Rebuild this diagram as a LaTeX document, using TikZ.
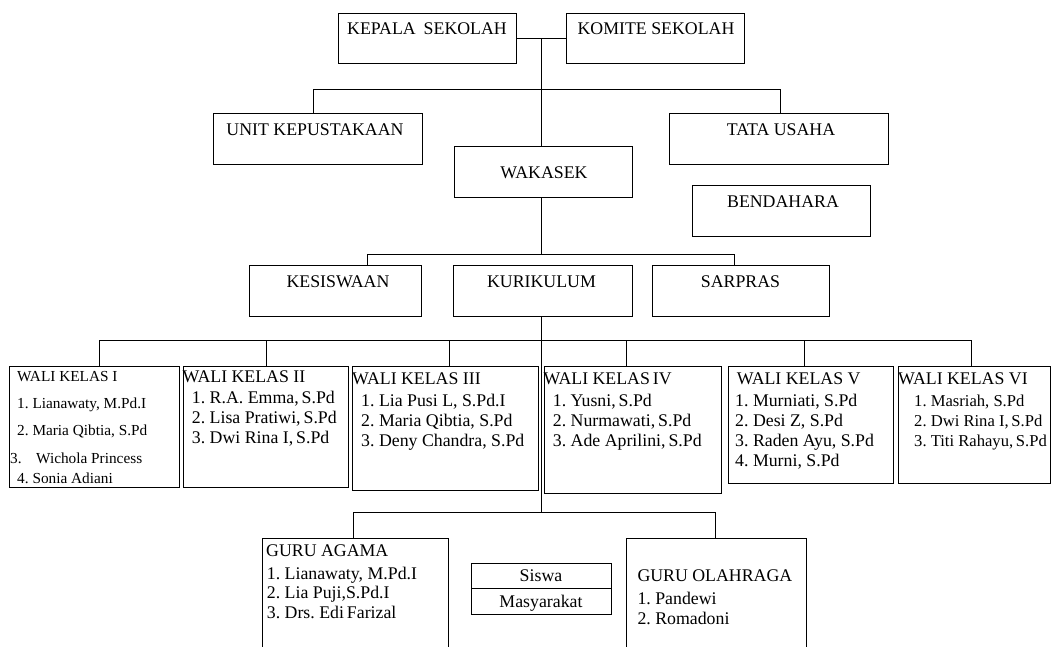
\documentclass[tikz,border=0pt]{standalone}
\usepackage{fontspec}
\setmainfont{Liberation Serif}
\begin{document}
\begin{tikzpicture}[x=1pt,y=-1pt,
  box/.style={draw=black, line width=1pt, inner sep=0pt, rectangle},
  conn/.style={draw=black, line width=1pt},
  tl/.style={inner sep=0pt, anchor=base, font=\fontsize{17.8}{20}\selectfont},
  tw/.style={inner sep=0pt, anchor=base west, font=\fontsize{17.8}{20}\selectfont},
  tws/.style={inner sep=0pt, anchor=base west, font=\fontsize{15.3}{18}\selectfont},
  twm/.style={inner sep=0pt, anchor=base west, font=\fontsize{16.6}{18}\selectfont}]
\useasboundingbox (0,0) rectangle (1052,646);
\fill[white] (0,0) rectangle (1052,646);
\clip (0,0) rectangle (1052,646);

% ---------- boxes ----------
\node[box, minimum width=178pt, minimum height=50pt] (kepala) at (427,38) {};
\node[box, minimum width=178pt, minimum height=50pt] (komite) at (655,38) {};
\node[box, minimum width=209pt, minimum height=51pt] (unit) at (317.5,138.5) {};
\node[box, minimum width=219pt, minimum height=51pt] (tata) at (778.5,138.5) {};
\node[box, minimum width=178pt, minimum height=51pt] (wakasek) at (543,171.5) {};
\node[box, minimum width=178pt, minimum height=51pt] (bendahara) at (781,210.5) {};
\node[box, minimum width=172pt, minimum height=51pt] (kesiswaan) at (335,290.5) {};
\node[box, minimum width=179pt, minimum height=51pt] (kurikulum) at (542.5,290.5) {};
\node[box, minimum width=177pt, minimum height=51pt] (sarpras) at (740.5,290.5) {};
\node[box, minimum width=170pt, minimum height=121pt] (wk1) at (94,426.5) {};
\node[box, minimum width=165pt, minimum height=121pt] (wk2) at (265.5,426.5) {};
\node[box, minimum width=186pt, minimum height=124pt] (wk3) at (445,428) {};
\node[box, minimum width=177pt, minimum height=127pt] (wk4) at (632.5,429.5) {};
\node[box, minimum width=165pt, minimum height=117pt] (wk5) at (810.5,424.5) {};
\node[box, minimum width=152pt, minimum height=117pt] (wk6) at (974,424.5) {};
\node[box, minimum width=186pt, minimum height=122pt] (agama) at (355,599) {};
\node[box, minimum width=140pt, minimum height=25pt] (siswa) at (541,575.5) {};
\node[box, minimum width=140pt, minimum height=26pt] (masy) at (541,601) {};
\node[box, minimum width=180pt, minimum height=122pt] (olahraga) at (716,599) {};

% ---------- titles ----------
\node[tl] (kepalaT) at (427,34.3) {KEPALA\hspace{8pt}SEKOLAH};
\node[tl] (komiteT) at (656,34.3) {KOMITE SEKOLAH};
\node[tl] (unitT) at (315,135) {UNIT KEPUSTAKAAN};
\node[tl] (tataT) at (781,135) {TATA USAHA};
\node[tl] (wakasekT) at (544,178.3) {WAKASEK};
\node[tl] (bendaharaT) at (783,207.3) {BENDAHARA};
\node[tl] (kesiswaanT) at (338,287.3) {KESISWAAN};
\node[tl] (kurikulumT) at (541.5,287.3) {KURIKULUM};
\node[tl] (sarprasT) at (740.5,287.3) {SARPRAS};

% ---------- wali kelas I ----------
\node[tws] (w1h) at (17,381) {WALI KELAS I};
\node[tws] (w1a) at (17,408.3) {1.\ Lianawaty, M.Pd.I};
\node[tws] (w1b) at (17,435) {2.\ Maria Qibtia, S.Pd};
\node[tws] (w1c) at (10,463.3) {3.};
\node[tws] (w1c2) at (36,463.3) {Wichola Princess};
\node[tws] (w1d) at (17,483) {4.\ Sonia Adiani};

% ---------- wali kelas II ----------
\node[tw] (w2h) at (182.5,382.7) {WALI KELAS II};
\node[tw] (w2a) at (191.7,403.3) {1.\ R.A.\ Emma,\,S.Pd};
\node[tw] (w2b) at (191.7,423.3) {2.\ Lisa Pratiwi,\,S.Pd};
\node[tw] (w2c) at (191.7,443.3) {3.\ Dwi Rina I,\,S.Pd};

% ---------- wali kelas III ----------
\node[tw] (w3h) at (352,384) {WALI KELAS III};
\node[tw] (w3a) at (361,406) {1.\ Lia Pusi L, S.Pd.I};
\node[tw] (w3b) at (361,426) {2.\ Maria Qibtia, S.Pd};
\node[tw] (w3c) at (361,446) {3.\ Deny Chandra, S.Pd};

% ---------- wali kelas IV ----------
\node[tw] (w4h) at (543.5,384) {WALI KELAS\,IV};
\node[tw] (w4a) at (552.7,406) {1.\ Yusni,\,S.Pd};
\node[tw] (w4b) at (552.7,426) {2.\ Nurmawati,\,S.Pd};
\node[tw] (w4c) at (552.7,446) {3.\ Ade Aprilini,\,S.Pd};

% ---------- wali kelas V ----------
\node[tw] (w5h) at (736.7,384) {WALI KELAS V};
\node[tw] (w5a) at (735,406) {1.\ Murniati, S.Pd};
\node[tw] (w5b) at (735,426) {2.\ Desi Z, S.Pd};
\node[tw] (w5c) at (735,446) {3.\ Raden Ayu, S.Pd};
\node[tw] (w5d) at (735,466) {4.\ Murni, S.Pd};

% ---------- wali kelas VI ----------
\node[tw] (w6h) at (898,384) {WALI KELAS VI};
\node[twm] (w6a) at (914,406) {1.\ Masriah, S.Pd};
\node[twm] (w6b) at (914,426) {2.\ Dwi Rina I,\,S.Pd};
\node[twm] (w6c) at (914,446) {3.\ Titi Rahayu,\,S.Pd};

% ---------- guru ----------
\node[tw] (gah) at (266,556) {GURU AGAMA};
\node[tw] (gaa) at (266.7,579.3) {1.\ Lianawaty, M.Pd.I};
\node[tw] (gab) at (266.7,598.5) {2.\ Lia Puji,S.Pd.I};
\node[tw] (gac) at (266.7,618.7) {3.\ Drs.\ Edi\,Farizal};
\node[tl] (siswaT) at (541,581.7) {Siswa};
\node[tl] (masyT) at (541,607.7) {Masyarakat};
\node[tw] (goh) at (637.3,581.7) {GURU OLAHRAGA};
\node[tw] (goa) at (637.3,604) {1.\ Pandewi};
\node[tw] (gob) at (637.3,624) {2.\ Romadoni};

% ---------- connectors ----------
\coordinate (j1) at (541,38);
\draw[conn] (kepala.east) -- (komite.west);
\draw[conn] (j1) -- (j1 |- wakasek.north);
\coordinate (uL) at (313,89.3);
\coordinate (tR) at (780,89.3);
\draw[conn] (uL |- unit.north) -- (uL) -- (tR) -- (tR |- tata.north);

\coordinate (w1) at (541,254);
\coordinate (kL) at (367,254);
\coordinate (sR) at (734,254);
\draw[conn] (w1 |- wakasek.south) -- (w1);
\draw[conn] (kL |- kesiswaan.north) -- (kL) -- (sR) -- (sR |- sarpras.north);

\coordinate (wl) at (99,340.5);
\coordinate (wr) at (971.7,340.5);
\coordinate (d2) at (266.7,340.5);
\coordinate (d3) at (449.3,340.5);
\coordinate (d4) at (626.7,340.5);
\coordinate (d5) at (804.3,340.5);
\draw[conn] (wl |- wk1.north) -- (wl) -- (wr) -- (wr |- wk6.north);
\draw[conn] (d2) -- (d2 |- wk2.north);
\draw[conn] (d3) -- (d3 |- wk3.north);
\draw[conn] (d4) -- (d4 |- wk4.north);
\draw[conn] (d5) -- (d5 |- wk5.north);

\coordinate (g) at (541,512.7);
\coordinate (gL) at (353,512.7);
\coordinate (gR) at (715.3,512.7);
\draw[conn] (g |- kurikulum.south) -- (g);
\draw[conn] (gL |- agama.north) -- (gL) -- (gR) -- (gR |- olahraga.north);
\end{tikzpicture}
\end{document}
